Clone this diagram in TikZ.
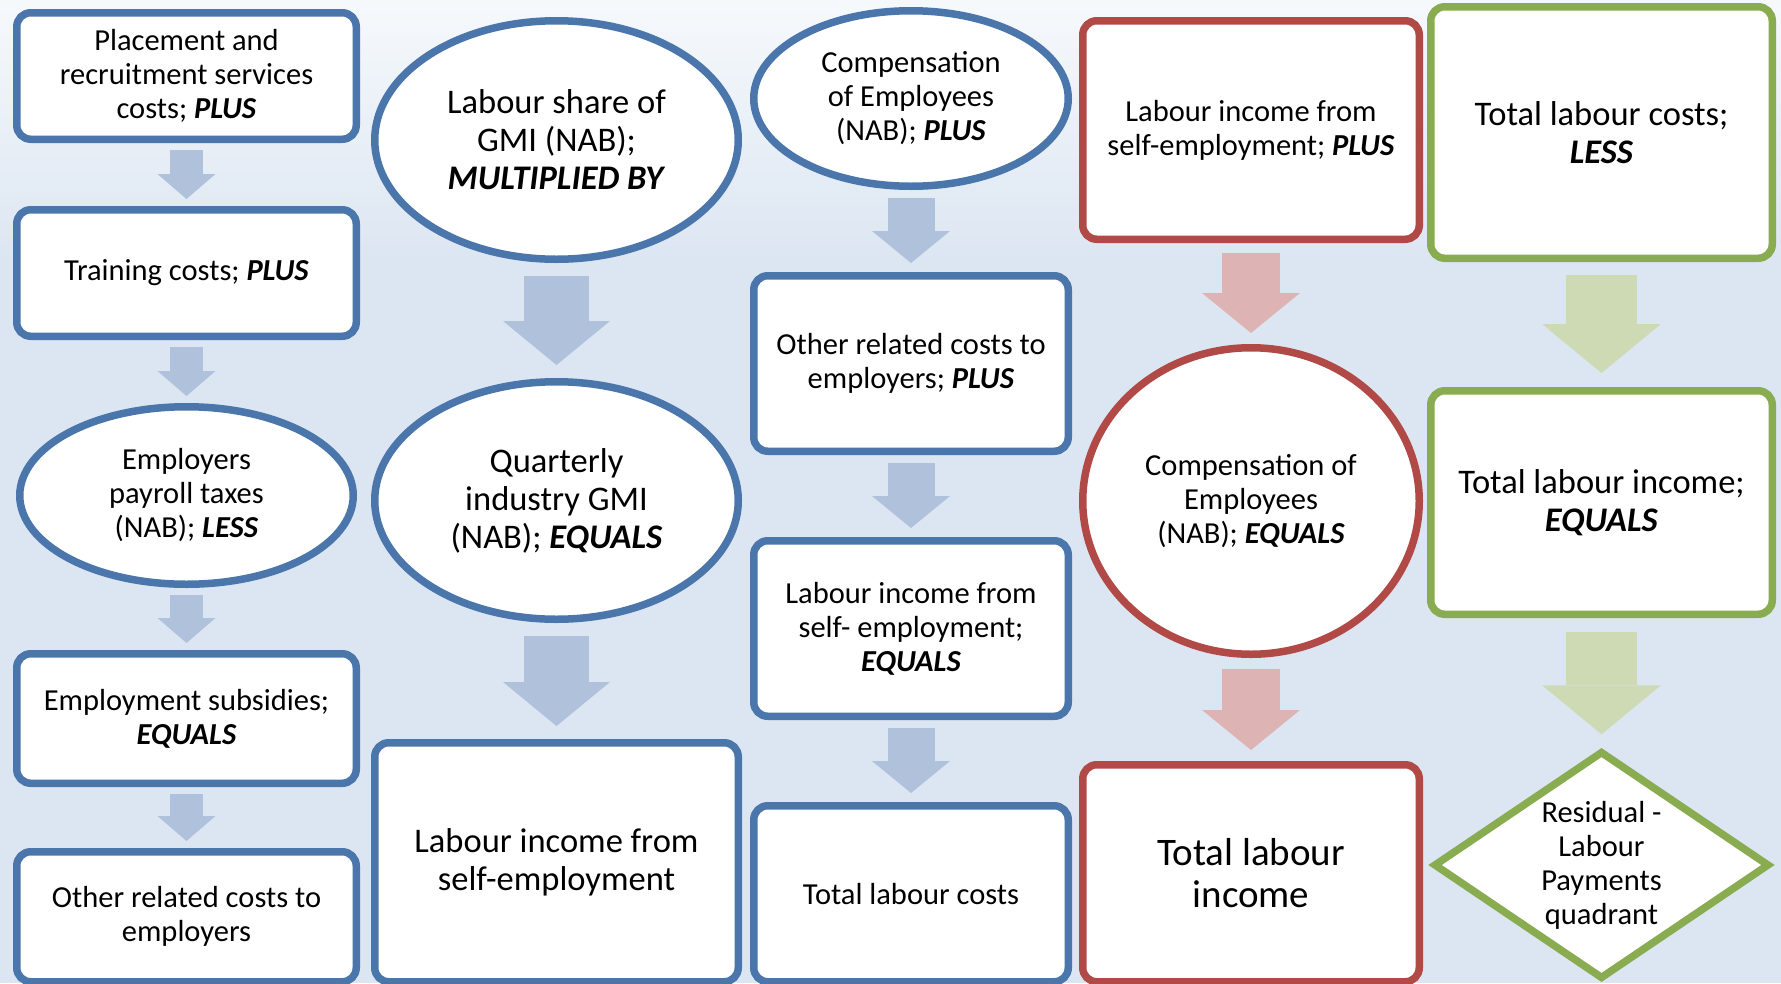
\documentclass[tikz,border=0pt]{standalone}
\usepackage{fontspec}
\setmainfont{Carlito}
\usetikzlibrary{positioning,shapes.geometric,arrows.meta}
\definecolor{bgblue}{HTML}{DCE6F2}
\definecolor{bgtop}{HTML}{F6F9FC}
\definecolor{blueline}{HTML}{4A76AB}
\definecolor{bluearrow}{HTML}{B0C1DC}
\definecolor{redline}{HTML}{B14A46}
\definecolor{redarrow}{HTML}{DEB3B3}
\definecolor{greenline}{HTML}{8AAC50}
\definecolor{greenarrow}{HTML}{CDDAB4}
\newcommand{\op}[1]{\textbf{\textit{#1}}}
\newcommand{\normsize}{\fontsize{30.5}{34}\selectfont}
\newcommand{\bigsize}{\fontsize{34.5}{38}\selectfont}
\newcommand{\hugesize}{\fontsize{39}{42}\selectfont}
\tikzset{
    box/.style={draw, fill=white, line width=7.5pt, rounded corners=14pt, align=center, inner sep=0pt, font=\normsize},
    oval/.style={draw, fill=white, ellipse, line width=7.5pt, align=center, inner sep=0pt, font=\normsize},
    flow/.style n args={4}{#1, line width=#2, -{Triangle[width=#3, length=#4, line width=0pt]}},
}
\begin{document}
\begin{tikzpicture}[x=1pt, y=-1pt]
    %Background
    \useasboundingbox (0,0) rectangle (1781,983);
    \fill[bgblue] (0,0) rectangle (1781,983);
    \shade[top color=bgtop, bottom color=bgblue] (0,0) rectangle (1781,260);

    %Nodes, first column
    \node[box, draw=blueline, minimum width=339.5pt, minimum height=126.5pt] at (186.5,76) (place) {Placement and\\recruitment services\\costs; \op{PLUS}};
    \node[box, draw=blueline, minimum width=339.5pt, minimum height=126.5pt] at (186.5,273) (train) {Training costs; \op{PLUS}};
    \node[oval, draw=blueline, minimum width=333.5pt, minimum height=177.5pt] at (186.5,495.5) (payroll) {Employers\\payroll taxes\\(NAB); \op{LESS}};
    \node[box, draw=blueline, minimum width=339.5pt, minimum height=129.5pt] at (186.5,718.5) (subsid) {Employment subsidies;\\\op{EQUALS}};
    \node[box, draw=blueline, minimum width=339.5pt, minimum height=130pt] at (186.5,916.75) (otherone) {Other related costs to\\employers};

    %Nodes, second column
    \node[oval, draw=blueline, minimum width=363.5pt, minimum height=238.5pt, font=\bigsize] at (556.5,140) (share) {Labour share of\\GMI (NAB);\\\op{MULTIPLIED BY}};
    \node[oval, draw=blueline, minimum width=363.5pt, minimum height=237.5pt, font=\bigsize] at (556.5,500.5) (gmi) {Quarterly\\industry GMI\\(NAB); \op{EQUALS}};
    \node[box, draw=blueline, minimum width=363.5pt, minimum height=239pt, font=\bigsize] at (556.5,862.25) (selfone) {Labour income from\\self-employment};

    %Nodes, third column
    \node[oval, draw=blueline, minimum width=314.5pt, minimum height=175.5pt] at (911,98.5) (compone) {Compensation\\of Employees\\(NAB); \op{PLUS}};
    \node[box, draw=blueline, minimum width=314.5pt, minimum height=175.5pt] at (911,363.5) (othertwo) {Other related costs to\\employers; \op{PLUS}};
    \node[box, draw=blueline, minimum width=314.5pt, minimum height=175.5pt] at (911,628.5) (selftwo) {Labour income from\\self- employment;\\\op{EQUALS}};
    \node[box, draw=blueline, minimum width=314.5pt, minimum height=176pt] at (911,893.75) (costs) {Total labour costs};

    %Nodes, fourth column
    \node[box, draw=redline, minimum width=336.5pt, minimum height=218.5pt] at (1251,130) (selfthree) {Labour income from\\self-employment; \op{PLUS}};
    \node[oval, draw=redline, minimum width=336.5pt, minimum height=306.5pt] at (1251,501) (comptwo) {Compensation of\\Employees\\(NAB); \op{EQUALS}};
    \node[box, draw=redline, minimum width=336.5pt, minimum height=217pt, font=\hugesize] at (1251,873.25) (income) {Total labour\\income};

    %Nodes, fifth column
    \node[box, draw=greenline, minimum width=341.5pt, minimum height=251.5pt, font=\bigsize] at (1601.5,132.5) (costsless) {Total labour costs;\\\op{LESS}};
    \node[box, draw=greenline, minimum width=341.5pt, minimum height=223.5pt, font=\bigsize] at (1601.5,502.5) (incomeeq) {Total labour income;\\\op{EQUALS}};
    \node[draw=greenline, fill=white, diamond, aspect=1.47, line width=7.5pt, inner sep=0pt, align=center, font=\normsize, minimum width=336pt, minimum height=228pt] at (1601.5,865) (resid) {Residual -\\Labour\\Payments\\quadrant};

    %Arrows
    \draw[flow={bluearrow}{33pt}{58pt}{25pt}, shorten <=7pt, shorten >=7pt] (place.south) -- (train.north);
    \draw[flow={bluearrow}{33pt}{58pt}{25pt}, shorten <=7pt, shorten >=7pt] (train.south) -- (payroll.north);
    \draw[flow={bluearrow}{33pt}{58pt}{25pt}, shorten <=7pt, shorten >=7pt] (payroll.south) -- (subsid.north);
    \draw[flow={bluearrow}{33pt}{58pt}{25pt}, shorten <=7pt, shorten >=7pt] (subsid.south) -- (otherone.north);

    \draw[flow={bluearrow}{65pt}{107pt}{44pt}, shorten <=13pt, shorten >=13pt] (share.south) -- (gmi.north);
    \draw[flow={bluearrow}{65pt}{107pt}{44pt}, shorten <=13pt, shorten >=13pt] (gmi.south) -- (selfone.north);

    \draw[flow={bluearrow}{47pt}{78pt}{32pt}, shorten <=8pt, shorten >=9pt] (compone.south) -- (othertwo.north);
    \draw[flow={bluearrow}{47pt}{78pt}{32pt}, shorten <=8pt, shorten >=9pt] (othertwo.south) -- (selftwo.north);
    \draw[flow={bluearrow}{47pt}{78pt}{32pt}, shorten <=8pt, shorten >=9pt] (selftwo.south) -- (costs.north);

    \draw[flow={redarrow}{58pt}{98pt}{40pt}, shorten <=10pt, shorten >=11pt] (selfthree.south) -- (comptwo.north);
    \draw[flow={redarrow}{58pt}{98pt}{40pt}, shorten <=11pt, shorten >=11pt] (comptwo.south) -- (income.north);

    \draw[flow={greenarrow}{71pt}{119pt}{49pt}, shorten <=13pt, shorten >=14pt] (costsless.south) -- (incomeeq.north);
    \draw[flow={greenarrow}{71pt}{119pt}{49pt}, shorten <=14pt, shorten >=13pt] (incomeeq.south) -- (resid.north);
\end{tikzpicture}
\end{document}
